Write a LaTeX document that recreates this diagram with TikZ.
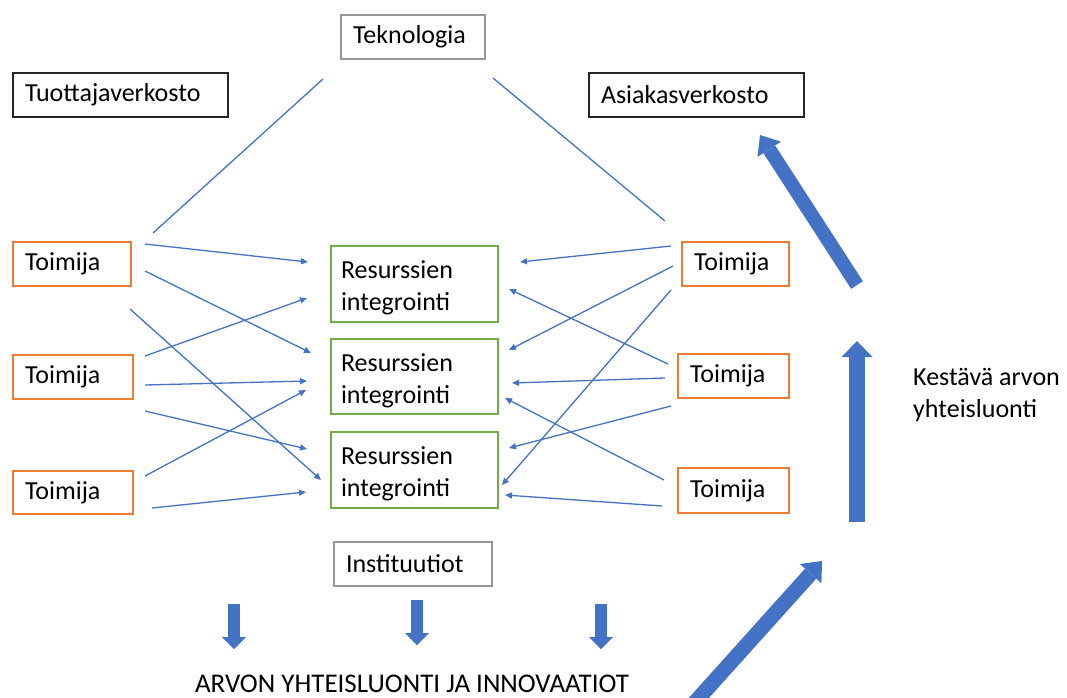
\documentclass[tikz,border=0pt]{standalone}
\usepackage{fontspec}
\setmainfont{Carlito}
\usetikzlibrary{arrows.meta}
\definecolor{oblue}{RGB}{68,114,196}
\definecolor{oorange}{RGB}{237,125,49}
\definecolor{ogreen}{RGB}{112,173,71}
\definecolor{ogray}{RGB}{150,150,150}
\definecolor{oblack}{RGB}{38,38,38}
\begin{document}
\begin{tikzpicture}[x=1pt,y=-1pt,
  every node/.style={font=\fontsize{26}{32}\selectfont, text=black},
  box/.style={draw, line width=1.4pt, inner xsep=12pt, inner ysep=0pt, align=left, minimum height=44pt},
  graybox/.style={box, draw=ogray, line width=1.2pt},
  netbox/.style={box, draw=oblack, line width=2pt},
  actbox/.style={box, draw=oorange, line width=1.6pt},
  resbox/.style={box, draw=ogreen, line width=1.6pt, inner xsep=10pt},
  link/.style={draw=oblue, line width=1.3pt},
  arr/.style={link, -{Triangle[length=7pt,width=6pt]}},
  fatarrow/.style={draw=oblue, line width=#1},
]
\useasboundingbox (0,0) rectangle (1067,697);
\fill[white] (0,0) rectangle (1067,697);

% boxes
\node[graybox, text width=120pt] (Tek) at (413,37) {Teknologia};
\node[netbox, text width=191pt] (Tuot) at (120.5,95) {Tuottajaverkosto};
\node[netbox, text width=191pt] (Asiak) at (696.5,95) {Asiakasverkosto};

\node[actbox, text width=94pt] (L1) at (72,264) {Toimija};
\node[actbox, text width=96pt] (L2) at (73,377) {Toimija};
\node[actbox, text width=96pt, minimum height=43pt] (L3) at (73,492.5) {Toimija};

\node[actbox, text width=83pt] (R1) at (735.5,264) {Toimija};
\node[actbox, text width=87pt] (R2) at (733.5,376) {Toimija};
\node[actbox, text width=87pt, minimum height=45pt] (R3) at (733.5,490.5) {Toimija};

\node[resbox, text width=147pt, minimum height=76pt] (Res1) at (414.5,284) {\rule{0pt}{26pt}Resurssien\\integrointi};
\node[resbox, text width=147pt, minimum height=75pt] (Res2) at (414.5,376.5) {\rule{0pt}{26pt}Resurssien\\integrointi};
\node[resbox, text width=147pt, minimum height=76pt] (Res3) at (414.5,470) {\rule{0pt}{26pt}Resurssien\\integrointi};

\node[graybox, text width=134pt] (Inst) at (413,564) {Instituutiot};

\node[anchor=north west, inner sep=0pt, align=left] (Kes) at (913,365) {\rule{0pt}{20pt}Kestävä arvon\\yhteisluonti};
\node[anchor=base, inner sep=0pt, font=\fontsize{27}{32}\selectfont] (Arvon) at (412,692) {ARVON YHTEISLUONTI JA INNOVAATIOT};

% technology lines
\coordinate (t1a) at (323,79);  \coordinate (t1b) at (153,233);
\coordinate (t2a) at (493,78);  \coordinate (t2b) at (665,221);
\draw[link] (t1a) -- (t1b);
\draw[link] (t2a) -- (t2b);

% left actors -> resource integration
\coordinate (a1s) at (145,244); \coordinate (a1e) at (308,262);
\coordinate (a2s) at (145,271); \coordinate (a2e) at (311,353);
\coordinate (a3s) at (130,309); \coordinate (a3e) at (321,480);
\coordinate (a4s) at (145,356); \coordinate (a4e) at (307,298);
\coordinate (a5s) at (145,385); \coordinate (a5e) at (307,381);
\coordinate (a6s) at (145,411); \coordinate (a6e) at (307,449);
\coordinate (a7s) at (145,476); \coordinate (a7e) at (306,390);
\coordinate (a8s) at (152,508); \coordinate (a8e) at (306,492);
\foreach \i in {1,...,8} {\draw[arr] (a\i s) -- (a\i e);}

% right actors -> resource integration
\coordinate (b1s) at (671,246); \coordinate (b1e) at (520,262);
\coordinate (b2s) at (673,266); \coordinate (b2e) at (509,350);
\coordinate (b3s) at (671,290); \coordinate (b3e) at (502,485);
\coordinate (b4s) at (668,364); \coordinate (b4e) at (509,289);
\coordinate (b5s) at (665,378); \coordinate (b5e) at (512,383);
\coordinate (b6s) at (671,406); \coordinate (b6e) at (509,448);
\coordinate (b7s) at (664,480); \coordinate (b7e) at (505,398);
\coordinate (b8s) at (662,506); \coordinate (b8e) at (505,495);
\foreach \i in {1,...,8} {\draw[arr] (b\i s) -- (b\i e);}

% thick arrows
\coordinate (u1s) at (857,522); \coordinate (u1e) at (857,341);
\draw[fatarrow=16pt, -{Triangle[length=16pt,width=31pt,line width=0pt]}] (u1s) -- (u1e);
\coordinate (u2s) at (857,285); \coordinate (u2e) at (760,135);
\draw[fatarrow=14pt, -{Triangle[length=17pt,width=28pt,line width=0pt]}] (u2s) -- (u2e);
\coordinate (u3s) at (688,710); \coordinate (u3e) at (822,561);
\draw[fatarrow=15pt, -{Triangle[length=17pt,width=29pt,line width=0pt]}] (u3s) -- (u3e);

\coordinate (d1s) at (234,604); \coordinate (d1e) at (234,649);
\coordinate (d2s) at (417,600); \coordinate (d2e) at (417,645);
\coordinate (d3s) at (601,604); \coordinate (d3e) at (601,649);
\foreach \i in {1,2,3} {\draw[fatarrow=12pt, -{Triangle[length=12pt,width=24pt,line width=0pt]}] (d\i s) -- (d\i e);}
\end{tikzpicture}
\end{document}
